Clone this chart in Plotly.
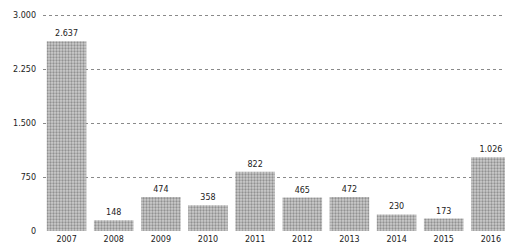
import plotly.graph_objects as go

years = ["2007", "2008", "2009", "2010", "2011", "2012", "2013", "2014", "2015", "2016"]
values = [2637, 148, 474, 358, 822, 465, 472, 230, 173, 1026]
y_ticks = [0, 750, 1500, 2250, 3000]

fig = go.Figure(go.Bar(
    x=years, y=values,
    marker=dict(color="#b0b0b0", line=dict(width=0),
                pattern=dict(shape=".", fgcolor="#555555", bgcolor="#cccccc", size=3, solidity=0.45)),
    text=[f"{v:,}".replace(",", ".") for v in values],
    textposition="outside", cliponaxis=False,
    textfont=dict(family="DejaVu Sans", size=8, color="#222222"),
    width=0.84,
))

fig.update_layout(
    width=505, height=252,
    margin=dict(l=43, r=0, t=14, b=21),
    plot_bgcolor="white", paper_bgcolor="white",
    separators=",.",
    showlegend=False,
    font=dict(family="DejaVu Sans", size=8, color="#222222"),
)
fig.update_xaxes(range=[-0.5, 9.3], showgrid=False, showline=False, ticks="",
                 automargin=False, ticklabelstandoff=2,
                 tickfont=dict(size=8, color="#222222"))
fig.update_yaxes(range=[0, 3015], tickvals=y_ticks, tickformat=",d",
                 showgrid=True, gridcolor="#8a8a8a", griddash="dot", gridwidth=1,
                 zeroline=False, showline=False, ticks="", automargin=False,
                 ticklabelstandoff=6,
                 tickfont=dict(size=8, color="#222222"))

fig.write_html("out.html", config={"displayModeBar": False},
               post_script="document.body.style.margin='0';document.body.style.overflow='hidden';")
